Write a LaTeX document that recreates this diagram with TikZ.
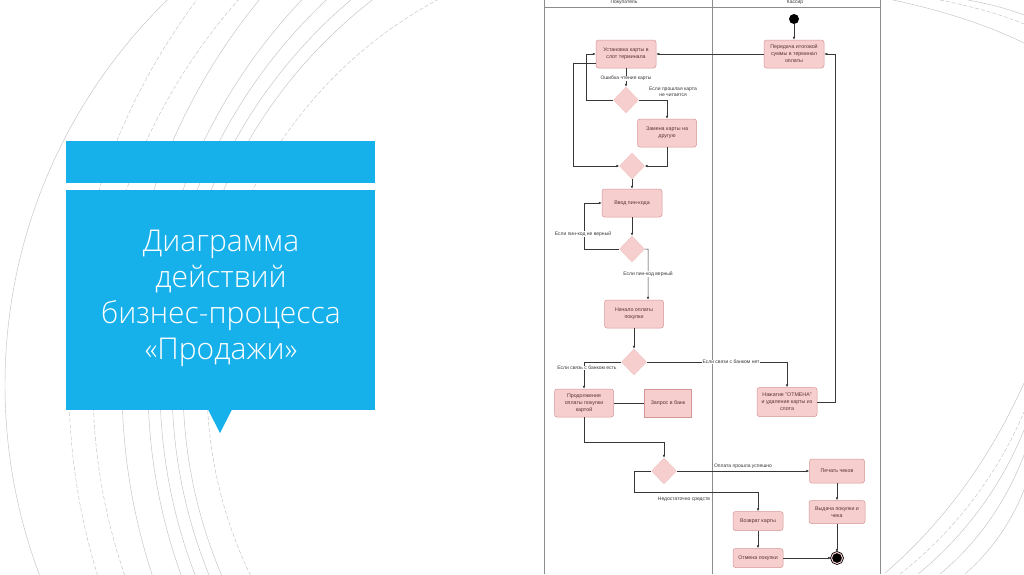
\documentclass[tikz,border=0pt]{standalone}
\usepackage{fontspec}
\setmainfont{Liberation Sans}
\newfontfamily\titlefont{Open Sans Light}
\usetikzlibrary{shapes.geometric,arrows.meta,calc}
\definecolor{blueb}{RGB}{22,176,234}
\definecolor{pfill}{RGB}{247,206,206}
\definecolor{pdraw}{RGB}{214,150,150}
\definecolor{ptext}{RGB}{90,50,50}
\definecolor{arcc}{RGB}{195,195,195}
\definecolor{lanec}{RGB}{140,140,140}
\definecolor{edgec}{RGB}{55,55,55}
\begin{document}
\begin{tikzpicture}[x=1pt,y=-1pt,
  act/.style={rectangle,rounded corners=2.5pt,fill=pfill,draw=pdraw,line width=0.5pt,
    inner sep=0pt,align=center,font=\fontsize{5.3}{7}\selectfont,text=ptext},
  sharp/.style={act,rounded corners=0pt},
  dec/.style={diamond,aspect=1,fill=pfill,draw=pfill!85!pdraw,line width=0.4pt,
    minimum width=25pt,minimum height=26pt,inner sep=0pt},
  arr/.style={draw=edgec,line width=0.5pt,-{Latex[length=3pt,width=2.6pt]}},
  plain/.style={draw=edgec,line width=0.5pt},
  lbl/.style={font=\fontsize{5}{6}\selectfont,text=edgec,fill=white,inner sep=0.4pt,align=center},
  hdr/.style={font=\fontsize{5}{6}\selectfont,text=edgec,inner sep=0pt},
  lanel/.style={draw=lanec,line width=0.7pt},
  arcl/.style={draw=arcc,line width=0.45pt},
  dsh/.style={dash pattern=on 4pt off 2pt}]
\useasboundingbox (0,0) rectangle (1024,574);
\fill[white] (0,0) rectangle (1024,574);

% background arcs (left)
\begin{scope}
\clip (0,0) rectangle (540,574);
\foreach \cx/\r in {543/538, 731/609, 707/559, 689/529, 676/504, 669/486}
  \draw[arcl] (\cx,385) circle[radius=\r];
\foreach \cx/\r in {713/644, 676/583, 644/437}
  \draw[arcl,dsh] (\cx,385) circle[radius=\r];
\end{scope}
% background arcs (right)
\draw[arcl] (893,0) .. controls (940,10) and (985,24) .. (1024,43);
\draw[arcl,dsh] (940,0) .. controls (970,6) and (1000,14) .. (1024,24);
\draw[arcl] (968,0) .. controls (990,4) and (1008,9) .. (1024,15);
\draw[arcl] (884,574) .. controls (935,530) and (985,470) .. (1024,383);
\draw[arcl,dsh] (900,574) .. controls (950,535) and (995,480) .. (1024,412);
\draw[arcl] (918,574) .. controls (960,540) and (1000,490) .. (1024,430);
\draw[arcl] (940,574) .. controls (975,545) and (1005,505) .. (1024,455);
\draw[arcl] (965,574) .. controls (990,552) and (1010,525) .. (1024,490);

% diagram panel
\fill[white] (540,0) rectangle (885,574);
\draw[lanel] (544,0) -- (544,574);
\draw[lanel] (712,0) -- (712,574);
\draw[lanel] (880,0) -- (880,574);
\draw[lanel] (544,7) -- (880,7);
\node[hdr] (hbuy) at (624,2.5) {Покупатель};
\node[hdr] (hcash) at (795,2.5) {Кассир};

% title block
\fill[blueb] (66,141) rectangle (375,183);
\fill[blueb] (66,190) rectangle (375,410);
\fill[blueb] (208,409.5) -- (232,409.5) -- (220,433) -- cycle;
\node[font=\titlefont\fontsize{30}{36}\selectfont,text=white,align=center] (title) at (221,298)
  {Диаграмма\\действий\\бизнес-процесса\\«Продажи»};

% nodes
\node[circle,fill=black,minimum size=10pt,inner sep=0pt] (start) at (794,19) {};
\node[act,minimum width=60pt,minimum height=28pt] (pass) at (794,54) {Передача итоговой\\суммы в терминал\\оплаты};
\node[act,minimum width=60pt,minimum height=28pt] (inst) at (626,54) {Установка карты в\\слот терминала};
\node[dec] (d1) at (626,100) {};
\node[act,minimum width=59pt,minimum height=28pt] (repl) at (667,133) {Замена карты на\\другую};
\node[dec] (d2) at (632,166) {};
\node[act,minimum width=60pt,minimum height=28pt] (pin) at (632,203) {Ввод пин-кода};
\node[dec] (d3) at (632,249) {};
\node[act,minimum width=59pt,minimum height=28pt] (begin) at (634,314) {Начало оплаты\\покупки};
\node[dec] (d4) at (634,362) {};
\node[act,minimum width=59pt,minimum height=28pt] (cont) at (584,403) {Продолжение\\оплаты покупки\\картой};
\node[sharp,minimum width=47pt,minimum height=28pt] (bank) at (668,403) {Запрос в банк};
\node[act,minimum width=60pt,minimum height=29pt] (cancel) at (787,402) {Нажатие "ОТМЕНА"\\и удаление карты из\\слота};
\node[dec] (d5) at (664,471) {};
\node[act,minimum width=55pt,minimum height=24pt] (print) at (837,471) {Печать чеков};
\node[act,minimum width=56pt,minimum height=23pt] (give) at (837,512) {Выдача покупки и\\чека};
\node[act,minimum width=50pt,minimum height=19pt] (ret) at (758,521) {Возврат карты};
\node[act,minimum width=50pt,minimum height=19pt] (undo) at (758,558) {Отмена покупки};
\node[circle,fill=black,draw=black,double=pfill,double distance=1pt,line width=0.8pt,
  minimum size=11pt,inner sep=0pt] (fin) at (837,558) {};

% connectors
\draw[arr] (start) -- (pass);
\draw[arr] (pass) -- (inst);
\draw[arr] (inst) -- (d1);
\draw[arr] (d1.west) -| ([xshift=-10pt]inst.west) -- (inst.west);
\draw[arr] (d1.east) -| (repl.north);
\draw[arr] ([yshift=-9pt]inst.west) -- ++(-23,0) |- (d2.west);
\draw[arr] (repl.south) |- (d2.east);
\draw[arr] (d2) -- (pin);
\draw[arr] (pin) -- (d3);
\draw[arr] (d3.west) -| ([xshift=-18pt]pin.west) -- (pin.west);
\draw[arr] (d3.east) -- ++(3.5,0) -- ($(begin.north)+(14,0)$);
\draw[arr] (begin) -- (d4);
\draw[arr] (d4.west) -| (cont.north);
\draw[arr] (d4.east) -| (cancel.north);
\draw[plain] (cont.east) -- (bank.west);
\draw[arr] (cancel.east) -- ++(18,0) |- (pass.east);
\draw[arr] (cont.south) |- ($(d5.north)+(0,-16)$) -- (d5.north);
\draw[arr] (d5.east) -- (print.west);
\draw[arr] (d5.west) -- ++(-17,0) |- ($(ret.north)+(0,-19)$) -- (ret.north);
\draw[arr] (print) -- (give);
\draw[arr] (give) -- (fin);
\draw[arr] (ret) -- (undo);
\draw[arr] (undo) -- (fin);

% labels
\node[lbl] (l1) at (626,78.5) {Ошибка чтения карты};
\node[lbl] (l2) at (673,92) {Если прошлая карта\\не читается};
\node[lbl] (l3) at (583,234) {Если пин-код не верный};
\node[lbl] (l4) at (648,274) {Если пин-код верный};
\node[lbl] (l5) at (587,368) {Если связь с банком есть};
\node[lbl] (l6) at (731,362) {Если связи с банком нет};
\node[lbl,fill=none] (l7) at (743,466) {Оплата прошла успешно};
\node[lbl,fill=none] (l8) at (684,499) {Недостаточно средств};
\end{tikzpicture}
\end{document}
